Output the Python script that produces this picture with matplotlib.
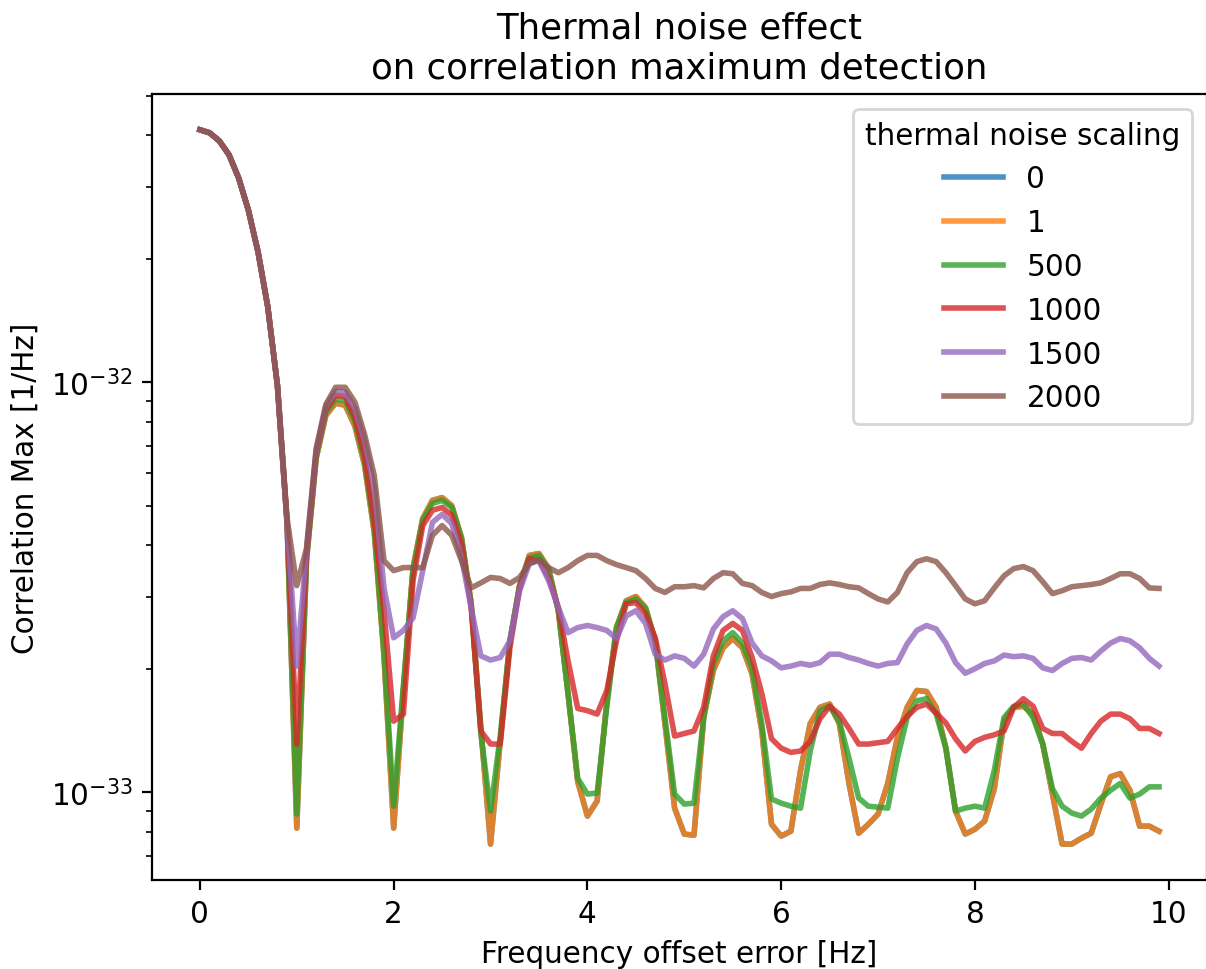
import numpy as np
import matplotlib
matplotlib.use("Agg")
import matplotlib.pyplot as plt

# frequency offset error [Hz], sampled every 0.1 Hz
freq = np.round(np.arange(100) * 0.1, 1)

# correlation maximum, in units of 1e-33 1/Hz
corr_1 = [41.3, 40.6, 38.8, 35.9, 31.5, 26.3, 20.8, 15.3, 9.83, 4.52,
          0.817, 3.67, 6.52, 8.30, 8.89, 8.79, 7.81, 6.27, 4.30, 2.15,
          0.817, 1.77, 3.53, 4.65, 5.15, 5.23, 5.00, 4.18, 2.88, 1.43,
          0.747, 1.33, 2.34, 3.19, 3.78, 3.82, 3.51, 2.77, 1.74, 1.06,
          0.874, 0.951, 1.67, 2.52, 2.93, 3.00, 2.82, 2.34, 1.47, 0.914,
          0.790, 0.785, 1.52, 1.98, 2.25, 2.37, 2.25, 1.94, 1.41, 0.835,
          0.781, 0.803, 1.13, 1.47, 1.61, 1.64, 1.47, 1.05, 0.794, 0.835,
          0.884, 1.05, 1.36, 1.61, 1.77, 1.76, 1.61, 1.28, 0.899, 0.790,
          0.812, 0.850, 1.02, 1.49, 1.61, 1.62, 1.55, 1.31, 0.989, 0.747,
          0.747, 0.772, 0.794, 0.935, 1.09, 1.11, 1.01, 0.826, 0.826, 0.803]

# scaling 0 sits exactly under scaling 1
corr_0 = list(corr_1)

corr_500 = [41.3, 40.6, 38.8, 35.9, 31.5, 26.3, 20.8, 15.3, 9.83, 4.52,
            0.884, 3.71, 6.59, 8.45, 9.09, 9.04, 8.03, 6.41, 4.40, 2.21,
            0.924, 1.82, 3.47, 4.60, 5.06, 5.15, 4.95, 4.16, 2.88, 1.39,
            0.899, 1.37, 2.34, 3.19, 3.73, 3.78, 3.47, 2.77, 1.74, 1.08,
            0.989, 0.995, 1.61, 2.52, 2.90, 2.96, 2.80, 2.34, 1.52, 0.989,
            0.935, 0.940, 1.52, 2.06, 2.34, 2.45, 2.31, 2.01, 1.47, 0.962,
            0.940, 0.924, 0.914, 1.26, 1.58, 1.62, 1.49, 1.21, 0.967, 0.924,
            0.919, 0.914, 1.21, 1.52, 1.67, 1.69, 1.55, 1.28, 0.899, 0.914,
            0.924, 0.914, 1.13, 1.52, 1.62, 1.64, 1.52, 1.31, 1.02, 0.924,
            0.889, 0.874, 0.909, 0.967, 1.01, 1.05, 0.967, 0.989, 1.03, 1.03]

corr_1000 = [41.3, 40.6, 38.8, 35.9, 31.5, 26.3, 20.8, 15.3, 9.83, 4.55,
             1.31, 3.78, 6.71, 8.59, 9.29, 9.24, 8.21, 6.59, 4.55, 2.77,
             1.49, 1.55, 3.28, 4.47, 4.87, 4.95, 4.73, 4.04, 2.82, 1.41,
             1.31, 1.31, 2.25, 3.15, 3.71, 3.67, 3.34, 2.82, 2.09, 1.60,
             1.58, 1.55, 1.77, 2.34, 2.88, 2.90, 2.72, 2.38, 1.84, 1.37,
             1.39, 1.41, 1.61, 2.15, 2.48, 2.58, 2.48, 2.13, 1.74, 1.35,
             1.28, 1.25, 1.26, 1.33, 1.51, 1.62, 1.55, 1.43, 1.31, 1.31,
             1.32, 1.33, 1.43, 1.53, 1.61, 1.64, 1.56, 1.475, 1.35, 1.26,
             1.33, 1.36, 1.38, 1.41, 1.61, 1.69, 1.62, 1.43, 1.39, 1.39,
             1.33, 1.28, 1.39, 1.49, 1.55, 1.55, 1.51, 1.43, 1.43, 1.39]

corr_1500 = [41.3, 40.6, 38.8, 35.9, 31.5, 26.3, 20.8, 15.3, 9.83, 4.57,
             2.03, 3.88, 6.82, 8.74, 9.51, 9.45, 8.64, 7.21, 5.54, 3.15,
             2.38, 2.48, 2.66, 3.47, 4.55, 4.76, 4.52, 3.73, 2.82, 2.15,
             2.10, 2.13, 2.34, 3.10, 3.61, 3.67, 3.28, 2.82, 2.45, 2.52,
             2.55, 2.52, 2.48, 2.37, 2.69, 2.77, 2.58, 2.17, 2.10, 2.15,
             2.12, 2.03, 2.17, 2.50, 2.68, 2.77, 2.65, 2.31, 2.15, 2.09,
             2.01, 2.03, 2.06, 2.04, 2.07, 2.17, 2.17, 2.13, 2.10, 2.06,
             2.03, 2.06, 2.07, 2.30, 2.48, 2.55, 2.50, 2.31, 2.07, 1.95,
             2.00, 2.06, 2.09, 2.16, 2.14, 2.15, 2.12, 2.01, 1.98, 2.06,
             2.12, 2.13, 2.10, 2.21, 2.31, 2.37, 2.34, 2.25, 2.12, 2.03]

corr_2000 = [41.3, 40.6, 38.8, 35.9, 31.5, 26.3, 20.8, 15.3, 9.83, 4.65,
             3.19, 3.93, 6.90, 8.83, 9.72, 9.72, 8.94, 7.46, 5.92, 3.67,
             3.47, 3.53, 3.53, 3.53, 4.23, 4.47, 4.23, 3.67, 3.15, 3.24,
             3.34, 3.32, 3.23, 3.34, 3.61, 3.69, 3.53, 3.43, 3.53, 3.67,
             3.78, 3.78, 3.67, 3.59, 3.53, 3.47, 3.32, 3.14, 3.07, 3.17,
             3.17, 3.19, 3.15, 3.32, 3.43, 3.41, 3.23, 3.19, 3.07, 3.00,
             3.05, 3.08, 3.14, 3.14, 3.21, 3.24, 3.21, 3.17, 3.15, 3.05,
             2.96, 2.91, 3.07, 3.43, 3.65, 3.71, 3.65, 3.43, 3.19, 2.96,
             2.88, 2.93, 3.15, 3.37, 3.51, 3.55, 3.47, 3.26, 3.05, 3.10,
             3.17, 3.19, 3.21, 3.24, 3.32, 3.41, 3.41, 3.32, 3.15, 3.14]

scalings = ["0", "1", "500", "1000", "1500", "2000"]
series = [corr_0, corr_1, corr_500, corr_1000, corr_1500, corr_2000]
unit = 1e-33


def main():
    plt.rcParams["font.size"] = 10.65

    fig, ax = plt.subplots(figsize=(6.03, 4.85), dpi=200)
    # the right spine falls just past the edge of the picture
    fig.subplots_adjust(left=0.126, right=1.0008, bottom=0.092, top=0.902)

    for label, values in zip(scalings, series):
        ax.plot(freq, np.array(values) * unit, label=label, lw=2, alpha=0.8)

    ax.set_yscale("log")
    ax.set_xlabel("Frequency offset error [Hz]")
    ax.set_ylabel("Correlation Max [1/Hz]")
    ax.set_title("Thermal noise effect\non correlation maximum detection")
    ax.legend(title="thermal noise scaling", loc="upper right")

    fig.savefig("out.png", dpi=200)


if __name__ == '__main__':
    main()
